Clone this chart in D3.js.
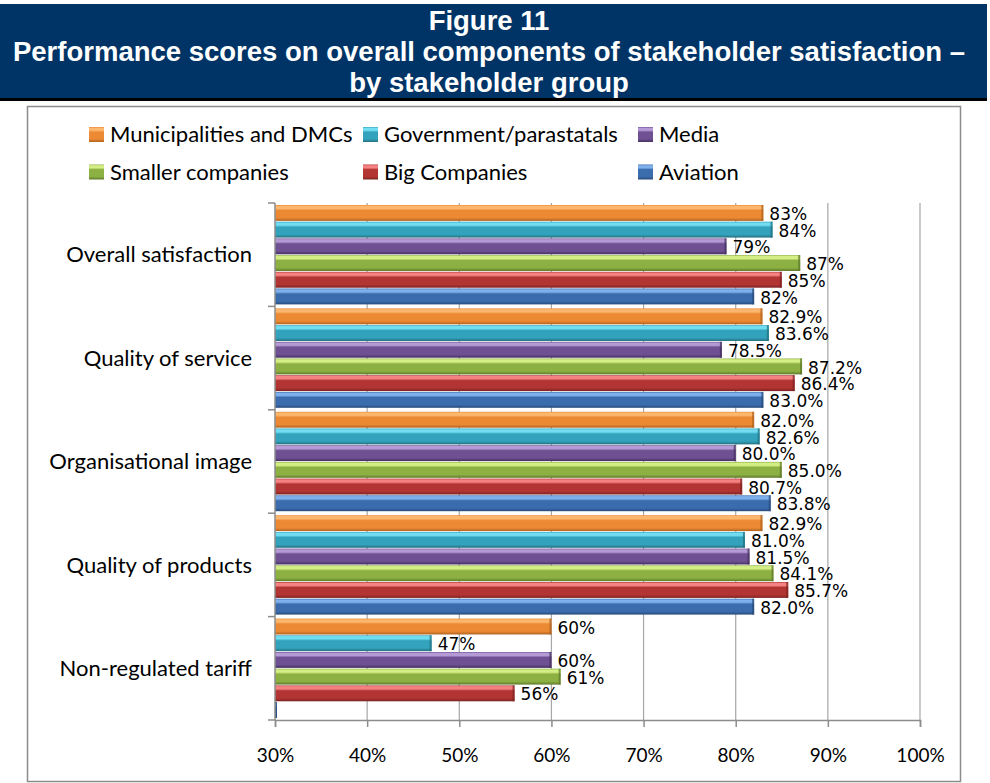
<!DOCTYPE html>
<html>
<head>
<meta charset="utf-8">
<script src="https://cdn.jsdelivr.net/npm/d3@7"></script>
<style>
  html, body { margin: 0; padding: 0; background: #ffffff; }
  svg { display: block; }
</style>
</head>
<body>
<svg id="chart" width="990" height="783"></svg>
<script>
// Performance scores by component, one array per stakeholder group (percent).
const categories = [
  "Overall satisfaction",
  "Quality of service",
  "Organisational image",
  "Quality of products",
  "Non-regulated tariff"
];
const seriesNames = [
  "Municipalities and DMCs",
  "Government/parastatals",
  "Media",
  "Smaller companies",
  "Big Companies",
  "Aviation"
];
const municipalities = [83, 82.9, 82.0, 82.9, 60];
const government     = [84, 83.6, 82.6, 81.0, 47];
const media          = [79, 78.5, 80.0, 81.5, 60];
const smaller        = [87, 87.2, 85.0, 84.1, 61];
const bigCompanies   = [85, 86.4, 80.7, 85.7, 56];
const aviation       = [82, 83.0, 83.8, 82.0, 0];
// Decimal places used in each category's value labels
const labelDecimals  = [0, 1, 1, 1, 0];
const xTicks = [30, 40, 50, 60, 70, 80, 90, 100];

const seriesValues = [municipalities, government, media, smaller, bigCompanies, aviation];

// Fill shades per series: [highlight, base, shadow]
const palette = [
  ["#fcb76e", "#ec8a34", "#b0621f"],
  ["#72dcf0", "#33a3bd", "#23707f"],
  ["#b59bd6", "#6f5093", "#44305f"],
  ["#d4ee86", "#8db043", "#5e7a2a"],
  ["#f58282", "#b33533", "#7c2222"],
  ["#7fb0ec", "#3b6dae", "#284b7a"]
];

const svg = d3.select("#chart");
const defs = svg.append("defs");

palette.forEach((c, i) => {
  const g = defs.append("linearGradient")
    .attr("id", "grad" + i)
    .attr("x1", 0).attr("y1", 0).attr("x2", 0).attr("y2", 1);
  g.append("stop").attr("offset", "0%").attr("stop-color", c[1]);
  g.append("stop").attr("offset", "8%").attr("stop-color", c[0]);
  g.append("stop").attr("offset", "22%").attr("stop-color", c[0]);
  g.append("stop").attr("offset", "34%").attr("stop-color", c[1]);
  g.append("stop").attr("offset", "80%").attr("stop-color", c[1]);
  g.append("stop").attr("offset", "100%").attr("stop-color", c[2]);
});

// Title banner
svg.append("rect")
  .attr("x", 0).attr("y", 4).attr("width", 987).attr("height", 94)
  .attr("fill", "#003466");
svg.append("rect")
  .attr("x", 0).attr("y", 98).attr("width", 987).attr("height", 3)
  .attr("fill", "#000000");

const titleLines = [
  "Figure 11",
  "Performance scores on overall components of stakeholder satisfaction \u2013",
  "by stakeholder group"
];
svg.append("g").selectAll("text")
  .data(titleLines)
  .join("text")
  .attr("x", 489)
  .attr("y", (d, i) => 30 + i * 31)
  .attr("text-anchor", "middle")
  .attr("fill", "#ffffff")
  .attr("font-family", "'Liberation Sans', Arial, sans-serif")
  .attr("font-weight", "bold")
  .attr("font-size", "27.5px")
  .text(d => d);

// Chart frame
svg.append("rect")
  .attr("x", 27.5).attr("y", 106.5).attr("width", 933).attr("height", 675)
  .attr("fill", "#ffffff")
  .attr("stroke", "#8c8c8c")
  .attr("stroke-width", 1.5);

// Legend
const legendCols = [89, 363, 638];
const legendRows = [134.5, 172];
const legend = svg.append("g");
const li = legend.selectAll("g")
  .data(seriesNames)
  .join("g")
  .attr("transform", (d, i) => `translate(${legendCols[i % 3]},${legendRows[Math.floor(i / 3)]})`);
li.append("rect")
  .attr("x", 0).attr("y", -7.5).attr("width", 15).attr("height", 15)
  .attr("fill", (d, i) => `url(#grad${i})`);
li.append("text")
  .attr("x", 21).attr("y", 0).attr("dy", "0.35em")
  .attr("font-family", "Lato, 'Noto Sans', sans-serif")
  .attr("font-size", "22px")
  .attr("fill", "#000000")
  .text(d => d);

// Plot area
const plot = { left: 275, right: 920, top: 203, bottom: 720 };

const x = d3.scaleLinear()
  .domain([xTicks[0], xTicks[xTicks.length - 1]])
  .range([plot.left, plot.right])
  .clamp(true);

const y0 = d3.scaleBand()
  .domain(categories)
  .range([plot.top, plot.bottom])
  .padding(0);

const y1 = d3.scaleBand()
  .domain(seriesNames)
  .range([0, y0.bandwidth()])
  .paddingInner(0.05)
  .paddingOuter(0.12);

// Vertical gridlines
svg.append("g")
  .selectAll("line")
  .data(xTicks.slice(1))
  .join("line")
  .attr("x1", d => x(d)).attr("x2", d => x(d))
  .attr("y1", plot.top).attr("y2", plot.bottom)
  .attr("stroke", "#a6a6a6")
  .attr("stroke-width", 1.2);

// Bottom value axis
const xAxis = svg.append("g")
  .attr("transform", `translate(0,${plot.bottom})`)
  .call(d3.axisBottom(x).tickValues(xTicks).tickFormat(d => d + "%").tickSize(7).tickPadding(22));
xAxis.select(".domain").attr("stroke", "#8c8c8c").attr("stroke-width", 1.5);
xAxis.selectAll(".tick line").attr("stroke", "#8c8c8c").attr("stroke-width", 1.5);
xAxis.selectAll("text")
  .attr("font-family", "Lato, 'Noto Sans', sans-serif")
  .attr("font-size", "19px")
  .attr("fill", "#000000");

// Bars
const groups = svg.append("g")
  .selectAll("g")
  .data(categories)
  .join("g")
  .attr("transform", d => `translate(0,${y0(d)})`);

const barData = (cat, ci) => seriesNames.map((s, si) => ({
  series: s, si, ci, value: seriesValues[si][ci]
}));

groups.each(function(cat, ci) {
  const g = d3.select(this);
  const data = barData(cat, ci);
  const bars = g.selectAll("g.bar")
    .data(data)
    .join("g")
    .attr("class", "bar");
  bars.append("rect")
    .attr("x", plot.left)
    .attr("y", d => y1(d.series))
    .attr("width", d => Math.max(2, x(d.value) - plot.left))
    .attr("height", y1.bandwidth())
    .attr("fill", d => `url(#grad${d.si})`);
  // darker cap at the end of each bar
  bars.append("rect")
    .attr("x", d => Math.max(plot.left, x(d.value) - 2))
    .attr("y", d => y1(d.series))
    .attr("width", 2)
    .attr("height", y1.bandwidth())
    .attr("fill", d => palette[d.si][2])
    .attr("opacity", 0.75);
  bars.filter(d => d.value >= x.domain()[0])
    .append("text")
    .attr("x", d => x(d.value) + 6)
    .attr("y", d => y1(d.series) + y1.bandwidth() / 2 + 1)
    .attr("dy", "0.36em")
    .attr("font-family", "'DejaVu Sans', sans-serif")
    .attr("font-size", "17px")
    .attr("fill", "#000000")
    .text(d => d.value.toFixed(labelDecimals[d.ci]) + "%");
});

// Left category axis
svg.append("line")
  .attr("x1", plot.left).attr("x2", plot.left)
  .attr("y1", plot.top).attr("y2", plot.bottom)
  .attr("stroke", "#8c8c8c").attr("stroke-width", 1.5);
const boundaries = categories.map(c => y0(c)).concat([plot.bottom]);
svg.append("g").selectAll("line")
  .data(boundaries)
  .join("line")
  .attr("x1", plot.left - 7).attr("x2", plot.left)
  .attr("y1", d => d).attr("y2", d => d)
  .attr("stroke", "#8c8c8c").attr("stroke-width", 1.5);
svg.append("g").selectAll("text")
  .data(categories)
  .join("text")
  .attr("x", 252)
  .attr("y", d => y0(d) + y0.bandwidth() / 2)
  .attr("dy", "0.35em")
  .attr("text-anchor", "end")
  .attr("font-family", "Lato, 'Noto Sans', sans-serif")
  .attr("font-size", "22px")
  .attr("fill", "#000000")
  .text(d => d);
</script>
</body>
</html>
